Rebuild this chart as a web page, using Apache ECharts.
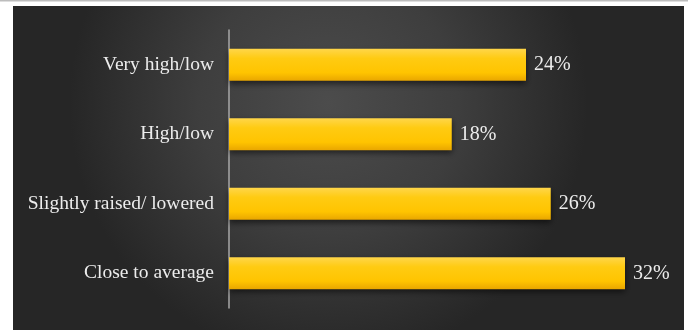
<!DOCTYPE html>
<html>
<head>
<meta charset="utf-8">
<script src="https://cdn.jsdelivr.net/npm/echarts@6/dist/echarts.min.js"></script>
<style>
  html, body { margin: 0; padding: 0; background: #ffffff; }
  #chart { width: 688px; height: 330px; }
</style>
</head>
<body>
<div id="chart"></div>
<script>
// Survey answers, top to bottom as shown
const categories = ['Very high/low', 'High/low', 'Slightly raised/ lowered', 'Close to average'];
const shares = [24, 18, 26, 32];

const chart = echarts.init(document.getElementById('chart'), null, { renderer: 'canvas' });

const serif = '"Liberation Serif", "Times New Roman", serif';

chart.setOption({
  animation: false,
  backgroundColor: '#ffffff',
  graphic: [
    // thin rule along the top edge
    { type: 'rect', shape: { x: 0, y: 0, width: 688, height: 1.5 }, style: { fill: '#bdbdbd' }, z: -10 },
    // dark panel with a soft centre glow
    {
      type: 'rect',
      shape: { x: 13, y: 6, width: 671, height: 324 },
      style: {
        fill: new echarts.graphic.RadialGradient(0.47, 0.3, 0.8, [
          { offset: 0, color: '#4c4c4c' },
          { offset: 0.5, color: '#3e3e3e' },
          { offset: 1, color: '#262626' }
        ])
      },
      z: -10
    }
  ],
  grid: { left: 229, right: 63, top: 30, bottom: 22, containLabel: false },
  xAxis: {
    type: 'value',
    min: 0,
    max: 32,
    show: false
  },
  yAxis: {
    type: 'category',
    inverse: true,
    data: categories,
    axisLine: { show: true, lineStyle: { color: '#a8a8a8', width: 1.5 } },
    axisTick: { show: false },
    axisLabel: {
      color: '#ececec',
      fontFamily: serif,
      fontSize: 19.5,
      margin: 15
    }
  },
  series: [{
    type: 'bar',
    data: shares,
    barWidth: 32,
    itemStyle: {
      color: new echarts.graphic.LinearGradient(0, 0, 0, 1, [
        { offset: 0, color: '#ffd64a' },
        { offset: 0.3, color: '#ffcb12' },
        { offset: 0.75, color: '#ffc400' },
        { offset: 1, color: '#e9a600' }
      ]),
      shadowColor: 'rgba(0,0,0,0.55)',
      shadowBlur: 6,
      shadowOffsetY: 3
    },
    label: {
      show: true,
      position: 'right',
      distance: 8,
      formatter: '{c}%',
      color: '#ececec',
      fontFamily: serif,
      fontSize: 20
    }
  }]
});
</script>
</body>
</html>
